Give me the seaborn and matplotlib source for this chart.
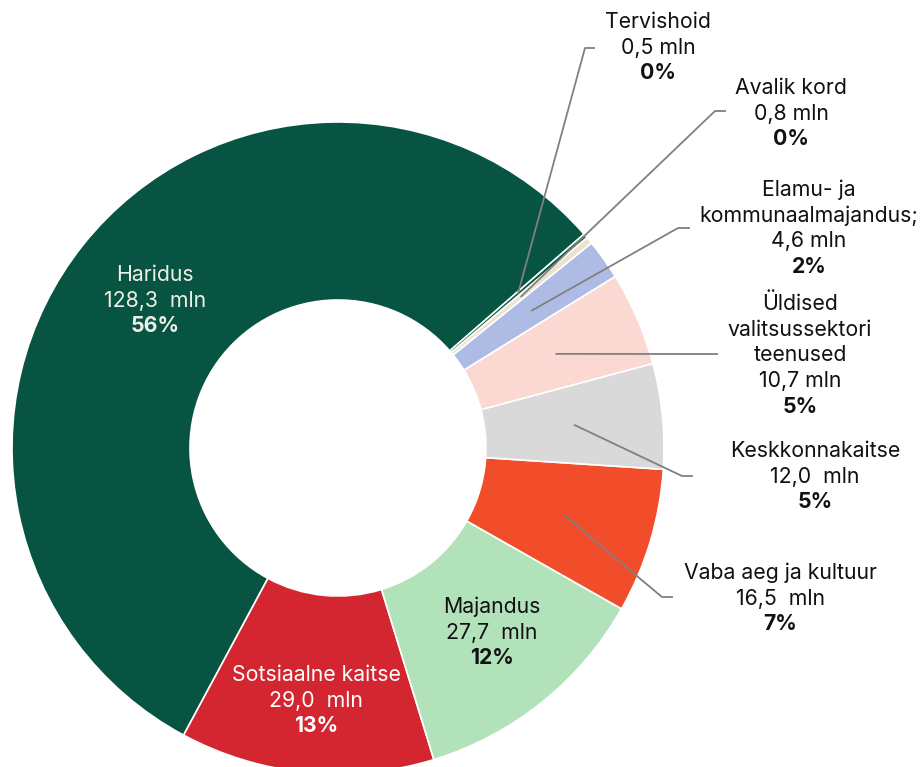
import numpy as np
import matplotlib.pyplot as plt
import seaborn as sns

# kulud valdkonniti, mln eurot
sectors = ["Haridus", "Sotsiaalne kaitse", "Majandus", "Vaba aeg ja kultuur", "Keskkonnakaitse",
           "Üldised\nvalitsussektori\nteenused", "Elamu- ja\nkommunaalmajandus;", "Avalik kord", "Tervishoid"]
amounts = [128.3, 29.0, 27.7, 16.5, 12.0, 10.7, 4.6, 0.8, 0.5]
amount_labels = ["128,3  mln", "29,0  mln", "27,7  mln", "16,5  mln", "12,0  mln",
                 "10,7 mln", "4,6 mln", "0,8 mln", "0,5 mln"]
colors = ["#065441", "#D32630", "#B2E2BA", "#F14D2A", "#D9D9D9",
          "#FBD9D2", "#AEBCE5", "#EDE3CD", "#065441"]
text_colors = ["#F0EEE6", "white", "#111111", "#111111", "#111111",
               "#111111", "#111111", "#111111", "#111111"]

sns.set_theme(style="white")
plt.rcParams['font.family'] = ['Inter', 'DejaVu Sans']

W, H = 921, 767
fig = plt.figure(figsize=(W / 100, H / 100), dpi=100)
ax = fig.add_axes([0, 0, 1, 1])

cx, cy = 338, H - 448
R, ring = 326, 178
wedges, _ = ax.pie(amounts, colors=colors, startangle=41, counterclock=True,
                   radius=R, center=(cx, cy),
                   wedgeprops=dict(width=ring, edgecolor="white", linewidth=1.2))
ax.set_xlim(0, W)
ax.set_ylim(0, H)
ax.set_aspect("equal")
ax.axis("off")

total = sum(amounts)
pcts = [f"{round(a / total * 100):.0f}%" for a in amounts]

# teksti asukohad pikslites (keskpunkt x, esimese rea y ülevalt)
label_pos = [(155, 275), (316, 675), (492, 607), (780, 573), (815, 451),
             (800, 304), (809, 190), (791, 88), (658, 22)]
# juhtjooned: (murdepunkt x, y, lõpp x)
elbows = {3: (662, 597, 673), 4: (682, 476, 693), 5: (707, 354, 718),
          6: (678, 228, 690), 7: (715, 111, 726), 8: (585, 48, 595)}

step = 25.7
fs = 15.3
for i, w in enumerate(wedges):
    x, y0 = label_pos[i]
    lines = sectors[i].split("\n") + [amount_labels[i]]
    for k, ln in enumerate(lines):
        ax.text(x, H - (y0 + k * step), ln, ha="center", va="center",
                fontsize=fs, color=text_colors[i])
    ax.text(x, H - (y0 + len(lines) * step), pcts[i], ha="center", va="center",
            fontsize=fs, fontweight="bold", color=text_colors[i])

    if i in elbows:
        ang = np.deg2rad((w.theta1 + w.theta2) / 2)
        r_mid = R - ring / 2
        sx, sy = cx + r_mid * np.cos(ang), cy + r_mid * np.sin(ang)
        ex, ey, hx = elbows[i]
        ax.plot([sx, ex, hx], [sy, H - ey, H - ey], color="#808080", lw=1.3,
                solid_capstyle="butt", zorder=3)

fig.savefig("out.png", dpi=100)
